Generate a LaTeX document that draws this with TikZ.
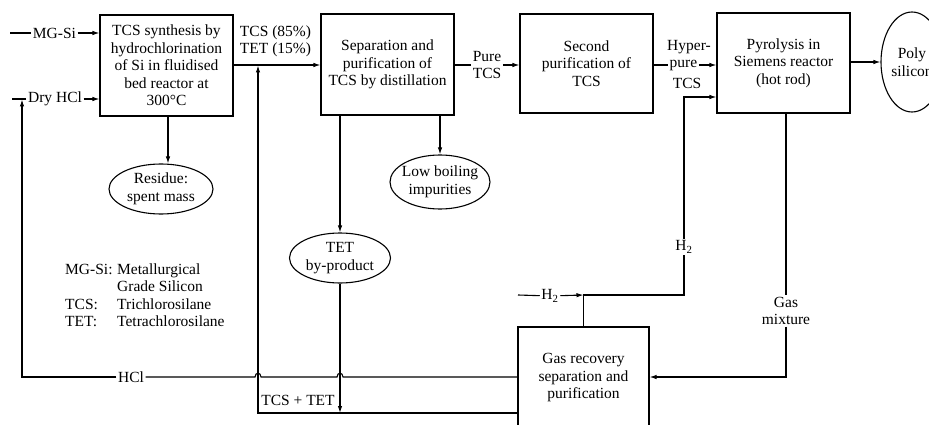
\documentclass[tikz,border=0pt]{standalone}
\usepackage{fontspec}
\setmainfont{Liberation Serif}
\usetikzlibrary{arrows.meta,shapes.geometric}
\begin{document}
\begin{tikzpicture}[x=1pt,y=-1pt,
  every node/.style={font=\fontsize{15.5}{17.5}\selectfont, inner sep=1pt},
  box/.style={draw, line width=1.1pt, minimum width=133pt, align=center, inner sep=0pt},
  oval/.style={draw, ellipse, line width=1.1pt, align=center, inner sep=-4pt},
  lbl/.style={align=center, inner sep=1.5pt},
  flow/.style={line width=1.1pt},
  arr/.style={flow, -{Latex[length=7pt,width=4.5pt]}}]
\useasboundingbox (0,0) rectangle (929,425);

% process boxes
\node[box, minimum height=101pt] (b1) at (166.5,65.5) {TCS synthesis by\\hydrochlorination\\of Si in fluidised\\bed reactor at\\300°C};
\node[box, minimum height=101pt] (b2) at (387.5,64.5) {Separation and\\purification of\\TCS by distillation};
\node[box, minimum height=99pt] (b3) at (586.5,63.5) {Second\\purification of\\TCS};
\node[box, minimum height=100pt] (b4) at (783.5,63) {Pyrolysis in\\Siemens reactor\\(hot rod)};
\node[box, minimum width=131pt, minimum height=102pt] (b5) at (583.5,378) {Gas recovery\\separation and\\purification};

% ovals
\node[oval, minimum width=104pt, minimum height=50pt] (e1) at (161,189) {Residue:\\spent mass};
\node[oval, minimum width=100pt, minimum height=54pt] (e2) at (440,182) {Low boiling\\impurities};
\node[oval, minimum width=101pt, minimum height=50pt] (e3) at (340,258) {TET\\by-product};
\node[oval, minimum width=62pt, minimum height=100pt] (e4) at (912,62) {Poly\\silicon};

% MG-Si feed
\coordinate (mg0) at (10,33);
\node[lbl] (mgl) at (54.5,33) {MG-Si};
\draw[flow] (mg0) -- (mgl);
\draw[arr] (mgl) -- (b1.west |- mgl);

% Dry HCl feed
\coordinate (dh0) at (12,99);
\node[lbl] (dhl) at (55,99) {Dry HCl};
\draw[flow] (dh0) -- (dhl);
\draw[arr] (dhl) -- (b1.west |- dhl);

% HCl recycle
\coordinate (hc1) at (22,377);
\coordinate (hc2) at (22,99.5);
\node[lbl] (hcl) at (131,377) {HCl};
\draw[flow] (b5.west |- 0,377) -- (343,377) .. controls (343,372) and (337,372) .. (337,377)
  -- (261,377) .. controls (261,372) and (255,372) .. (255,377) -- (hcl);
\draw[arr] (hcl) -- (hc1) -- (hc2);

% b1 -> b2
\node[lbl] (pct) at (275.5,41.5) {TCS (85\%)\\TET (15\%)};
\draw[arr] (b1.east |- 0,65) -- (b2.west |- 0,65);

% TCS + TET recycle
\coordinate (tt1) at (258,413);
\coordinate (j1) at (258,65.5);
\draw[arr] (b5.west |- tt1) -- (tt1) -- (j1);
\node[lbl] (ttl) at (298,400) {TCS + TET};

% residue
\draw[arr] (b1.south -| 168,0) -- (e1.north -| 168,0);

% TET by-product
\coordinate (j2) at (340,413);
\draw[arr] (e3 |- b2.south) -- (e3.north);
\draw[arr] (e3.south) -- (j2);

% low boiling
\draw[arr] (e2 |- b2.south) -- (e2.north);

% pure TCS
\node[lbl] (pt) at (487,65) {Pure\\TCS};
\draw[flow] (b2.east |- pt) -- (pt);
\draw[arr] (pt) -- (b3.west |- pt);

% hyper-pure TCS
\node[lbl] (hp) at (683.5,65) {pure};
\node[lbl] (hp1) at (689,47) {Hyper-};
\node[lbl] (hp2) at (687,83) {TCS};
\draw[flow] (b3.east |- hp) -- (hp);
\draw[arr] (hp) -- (b4.west |- hp);

% product
\draw[arr] (b4.east |- e4) -- (e4.west);

% H2 loop
\node[lbl] (h2a) at (684,247) {H\textsubscript{2}};
\coordinate (h2c) at (684,295);
\coordinate (h2t) at (684,97);
\draw[flow] (b5.north) -- (b5.north |- h2c) -- (h2c) -- (h2a);
\draw[arr] (h2a) -- (h2t) -- (b4.west |- h2t);

% H2 feed
\coordinate (hf0) at (518,295);
\node[lbl] (hfl) at (550,296) {H\textsubscript{2}};
\draw[flow] (hf0) -- (hfl);
\draw[arr] (hfl) -- (b5.north |- h2c);

% gas mixture
\node[lbl] (gm) at (786,311) {Gas\\mixture};
\draw[flow] (b4.south -| gm) -- (gm);
\draw[arr] (gm) -- (gm |- 0,377) -- (b5.east |- 0,377);

% legend
\node[anchor=north west, inner sep=0pt] (leg) at (65,262) {\begin{tabular}{@{}p{52pt}@{}l@{}}
MG-Si: & Metallurgical\\
 & Grade Silicon\\
TCS: & Trichlorosilane\\
TET: & Tetrachlorosilane
\end{tabular}};
\end{tikzpicture}
\end{document}
